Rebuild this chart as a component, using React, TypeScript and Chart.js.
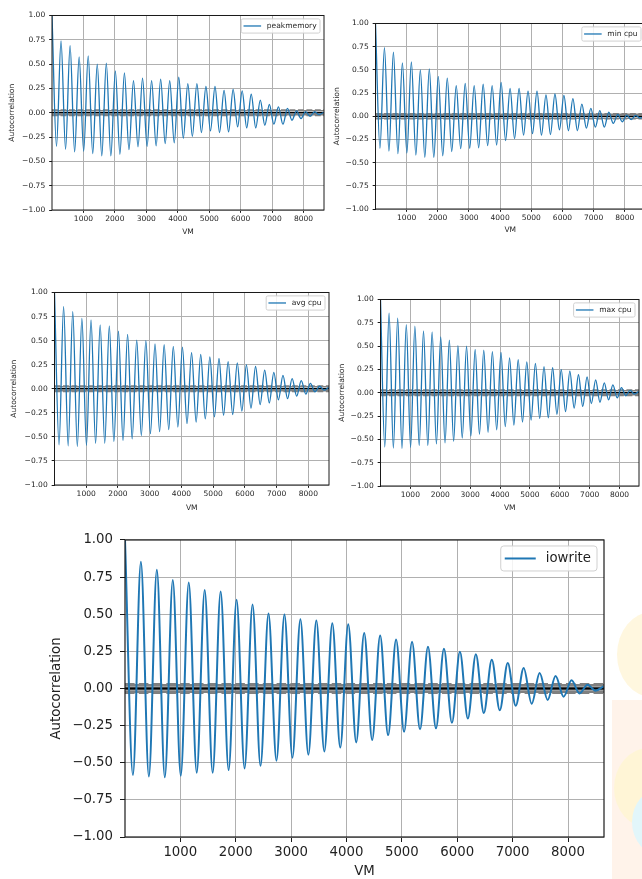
import React, { useEffect, useRef } from "react";
import { Chart, registerables } from "chart.js";
Chart.register(...registerables);

// ---- data ----
// lags of the successive extrema: lag 1, then trough, peak, trough, peak ...
const EXTREMA_LAGS = [
  1, 144, 288, 432, 576, 720, 864, 1008, 1152, 1296, 1440, 1584, 1728, 1872, 2016,
  2160, 2304, 2448, 2592, 2736, 2880, 3024, 3168, 3312, 3456, 3600, 3744, 3888, 4032,
  4176, 4320, 4464, 4608, 4752, 4896, 5040, 5184, 5328, 5472, 5616, 5760, 5904, 6048,
  6192, 6336, 6480, 6624, 6768, 6912, 7056, 7200, 7344, 7488, 7632, 7776, 7920, 8064,
  8208, 8352, 8496, 8640,
];

const peakMemory = [
  1.0,
  -0.345, 0.74, -0.376, 0.69, -0.403, 0.575, -0.396, 0.585, -0.42, 0.5,
  -0.444, 0.51, -0.444, 0.43, -0.427, 0.41, -0.38, 0.33, -0.35, 0.355,
  -0.345, 0.33, -0.341, 0.345, -0.317, 0.33, -0.31, 0.365, -0.262, 0.3,
  -0.242, 0.3, -0.204, 0.27, -0.187, 0.27, -0.204, 0.23, -0.197, 0.24,
  -0.146, 0.225, -0.156, 0.19, -0.156, 0.13, -0.129, 0.085, -0.118, 0.06,
  -0.118, 0.045, -0.077, 0.02, -0.06, 0.012, -0.036, 0.01, -0.019, 0.005,
];

const minCpu = [
  1.0,
  -0.345, 0.74, -0.376, 0.69, -0.403, 0.575, -0.396, 0.585, -0.42, 0.5,
  -0.444, 0.51, -0.444, 0.43, -0.427, 0.41, -0.38, 0.33, -0.35, 0.355,
  -0.345, 0.33, -0.341, 0.345, -0.317, 0.33, -0.31, 0.365, -0.262, 0.3,
  -0.242, 0.3, -0.204, 0.27, -0.187, 0.27, -0.204, 0.23, -0.197, 0.24,
  -0.146, 0.225, -0.156, 0.19, -0.156, 0.13, -0.129, 0.085, -0.118, 0.06,
  -0.118, 0.045, -0.077, 0.02, -0.06, 0.012, -0.036, 0.01, -0.019, 0.005,
];

const avgCpu = [
  1.0,
  -0.582, 0.853, -0.593, 0.8, -0.598, 0.73, -0.587, 0.714, -0.567, 0.664,
  -0.567, 0.653, -0.549, 0.598, -0.538, 0.565, -0.521, 0.505, -0.486, 0.499,
  -0.466, 0.466, -0.446, 0.457, -0.424, 0.44, -0.398, 0.433, -0.363, 0.374,
  -0.347, 0.356, -0.314, 0.33, -0.292, 0.314, -0.275, 0.281, -0.268, 0.268,
  -0.231, 0.248, -0.202, 0.231, -0.165, 0.193, -0.147, 0.171, -0.116, 0.138,
  -0.103, 0.105, -0.077, 0.084, -0.055, 0.055, -0.033, 0.026, -0.015, 0.015,
];

const maxCpu = [
  1.0,
  -0.582, 0.853, -0.593, 0.8, -0.598, 0.73, -0.587, 0.714, -0.567, 0.664,
  -0.567, 0.653, -0.549, 0.598, -0.538, 0.565, -0.521, 0.505, -0.486, 0.499,
  -0.466, 0.466, -0.446, 0.457, -0.424, 0.44, -0.398, 0.433, -0.363, 0.374,
  -0.347, 0.356, -0.314, 0.33, -0.292, 0.314, -0.275, 0.281, -0.268, 0.268,
  -0.231, 0.248, -0.202, 0.231, -0.165, 0.193, -0.147, 0.171, -0.116, 0.138,
  -0.103, 0.105, -0.077, 0.084, -0.055, 0.055, -0.033, 0.026, -0.015, 0.015,
];

const iowrite = [
  1.0,
  -0.582, 0.853, -0.593, 0.8, -0.598, 0.73, -0.587, 0.714, -0.567, 0.664,
  -0.567, 0.653, -0.549, 0.598, -0.538, 0.565, -0.521, 0.505, -0.486, 0.499,
  -0.466, 0.466, -0.446, 0.457, -0.424, 0.44, -0.398, 0.433, -0.363, 0.374,
  -0.347, 0.356, -0.314, 0.33, -0.292, 0.314, -0.275, 0.281, -0.268, 0.268,
  -0.231, 0.248, -0.202, 0.231, -0.165, 0.193, -0.147, 0.171, -0.116, 0.138,
  -0.103, 0.105, -0.077, 0.084, -0.055, 0.055, -0.033, 0.026, -0.015, 0.015,
];

const X_TICKS = [1000, 2000, 3000, 4000, 5000, 6000, 7000, 8000];
const Y_TICKS = [-1, -0.75, -0.5, -0.25, 0, 0.25, 0.5, 0.75, 1];
const X_MIN = 1;
const X_MAX = 8650;
// confidence band levels (99% dashed, 95% solid) and the zero line
const BAND_LEVELS = [0.0277, 0.0211, 0, -0.0211, -0.0277];
const BAND_DASHED = [true, false, false, false, true];

const X_TITLE = "VM";
const Y_TITLE = "Autocorrelation";
const FONT = "'DejaVu Sans', sans-serif";
const TEXT = "#1f1f1f";
const BLUE = "#1f77b4";

type Panel = {
  label: string;
  values: number[];
  L: number; T: number; R: number; B: number;
  k: number; // scale factor relative to the big plot
  yAxisW: number;
  xAxisH: number;
};

const PANELS: Panel[] = [
  { label: "peakmemory", values: peakMemory, L: 52, T: 15, R: 324, B: 210, k: 0.567, yAxisW: 44, xAxisH: 27 },
  { label: "min cpu", values: minCpu, L: 375, T: 23, R: 645, B: 209, k: 0.567, yAxisW: 42.5, xAxisH: 26 },
  { label: "avg cpu", values: avgCpu, L: 54, T: 292, R: 329, B: 485, k: 0.567, yAxisW: 44.5, xAxisH: 28 },
  { label: "max cpu", values: maxCpu, L: 380, T: 299, R: 639, B: 486, k: 0.567, yAxisW: 42.5, xAxisH: 27 },
  { label: "iowrite", values: iowrite, L: 125, T: 533, R: 604, B: 837, k: 1, yAxisW: 76, xAxisH: 43 },
];

const fmtY = (v: number) => {
  const s = Math.abs(v).toFixed(2);
  return v < -1e-9 ? "\u2212" + s : s;
};

const framePlugin = {
  id: "mplFrame",
  afterDatasetsDraw(chart: any, _args: any, opts: any) {
    const { ctx, chartArea } = chart;
    ctx.save();
    ctx.strokeStyle = "#1a1a1a";
    ctx.lineWidth = opts.lw || 1;
    ctx.strokeRect(chartArea.left, chartArea.top, chartArea.right - chartArea.left, chartArea.bottom - chartArea.top);
    ctx.restore();
  },
};

const legendPlugin = {
  id: "mplLegend",
  afterDraw(chart: any, _args: any, opts: any) {
    const { ctx, chartArea } = chart;
    const k = opts.k;
    const fs = 13.3 * k;
    const ds = chart.data.datasets[0];
    ctx.save();
    ctx.font = `${fs}px ${FONT}`;
    const tw = ctx.measureText(ds.label).width;
    const padL = 4 * k, handle = 31 * k, gap = 10 * k, padR = 6 * k, h = 25 * k;
    const w = padL + handle + gap + tw + padR;
    const right = chartArea.right - 7 * k;
    const top = chartArea.top + 6 * k;
    const left = right - w;
    const r = 3 * k;
    ctx.beginPath();
    ctx.moveTo(left + r, top);
    ctx.arcTo(right, top, right, top + h, r);
    ctx.arcTo(right, top + h, left, top + h, r);
    ctx.arcTo(left, top + h, left, top, r);
    ctx.arcTo(left, top, right, top, r);
    ctx.closePath();
    ctx.fillStyle = "rgba(255,255,255,0.85)";
    ctx.fill();
    ctx.strokeStyle = "#d0d0d0";
    ctx.lineWidth = 1;
    ctx.stroke();
    const cy = top + h / 2;
    ctx.strokeStyle = ds.borderColor;
    ctx.lineWidth = ds.borderWidth;
    ctx.beginPath();
    ctx.moveTo(left + padL, cy);
    ctx.lineTo(left + padL + handle, cy);
    ctx.stroke();
    ctx.fillStyle = TEXT;
    ctx.textBaseline = "middle";
    ctx.textAlign = "left";
    ctx.fillText(ds.label, left + padL + handle + gap, cy + 0.5);
    ctx.restore();
  },
};

function AcfPanel({ p }: { p: Panel }) {
  const ref = useRef<HTMLCanvasElement | null>(null);
  const padTop = 8;
  const padRight = 8;
  const width = p.yAxisW + (p.R - p.L) + padRight;
  const height = padTop + (p.B - p.T) + p.xAxisH;
  const left = p.L - p.yAxisW;
  const top = p.T - padTop;

  useEffect(() => {
    if (!ref.current) return;
    const k = p.k;
    const fs = 13.3 * k;
    const lw = k === 1 ? 2 : 1.3;
    const bandLw = k === 1 ? 2.6 : 1.6;
    const tl = 5 * k;
    const series = EXTREMA_LAGS.map((x, i) => ({ x, y: p.values[i] }));
    const bandSets = BAND_LEVELS.map((lvl, i) => ({
      label: "band" + i,
      data: [{ x: X_MIN, y: lvl }, { x: X_MAX, y: lvl }],
      borderColor: lvl === 0 ? "#000000" : "#808080",
      borderWidth: bandLw,
      borderDash: BAND_DASHED[i] ? [3.7 * bandLw, 1.6 * bandLw] : [],
      pointRadius: 0,
      tension: 0,
      showLine: true,
    }));
    const chart = new Chart(ref.current, {
      type: "line",
      data: {
        datasets: [
          {
            label: p.label,
            data: series,
            borderColor: BLUE,
            borderWidth: lw,
            pointRadius: 0,
            cubicInterpolationMode: "monotone",
            showLine: true,
            fill: false,
          } as any,
          ...bandSets,
        ],
      },
      options: {
        animation: false,
        responsive: false,
        maintainAspectRatio: false,
        devicePixelRatio: 1,
        events: [],
        layout: { padding: { top: padTop, right: padRight, left: 0, bottom: 0 } },
        plugins: {
          legend: { display: false },
          tooltip: { enabled: false },
          mplFrame: { lw: k === 1 ? 1.2 : 1 },
          mplLegend: { k },
        } as any,
        scales: {
          x: {
            type: "linear",
            min: X_MIN,
            max: X_MAX,
            afterBuildTicks: (s: any) => {
              s.ticks = X_TICKS.map((v) => ({ value: v }));
            },
            afterFit: (s: any) => {
              s.height = p.xAxisH;
            },
            grid: { color: "#b0b0b0", lineWidth: 1, tickLength: tl, tickColor: "#1a1a1a", drawTicks: true },
            border: { display: false },
            ticks: {
              font: { family: FONT, size: fs },
              color: TEXT,
              padding: 3 * k,
              maxRotation: 0,
              autoSkip: false,
              callback: (v: any) => String(v),
            },
            title: { display: true, text: X_TITLE, font: { family: FONT, size: fs }, color: TEXT, padding: 0 },
          },
          y: {
            type: "linear",
            min: -1,
            max: 1,
            afterBuildTicks: (s: any) => {
              s.ticks = Y_TICKS.map((v) => ({ value: v }));
            },
            afterFit: (s: any) => {
              s.width = p.yAxisW;
            },
            grid: { color: "#b0b0b0", lineWidth: 1, tickLength: tl, tickColor: "#1a1a1a", drawTicks: true },
            border: { display: false },
            ticks: {
              font: { family: FONT, size: fs },
              color: TEXT,
              padding: 7 * k,
              autoSkip: false,
              callback: (v: any) => fmtY(Number(v)),
            },
            title: { display: true, text: Y_TITLE, font: { family: FONT, size: fs }, color: TEXT, padding: 0 },
          },
        },
      } as any,
      plugins: [framePlugin, legendPlugin],
    });
    return () => chart.destroy();
  }, []);

  return (
    <canvas
      ref={ref}
      width={width}
      height={height}
      style={{ position: "absolute", left, top, width, height }}
    />
  );
}

export default function App() {
  return (
    <div
      style={{
        position: "absolute",
        left: 0,
        top: 0,
        width: 642,
        height: 879,
        overflow: "hidden",
        background: "#ffffff",
      }}
    >
      {/* faint slide decorations at the bottom right */}
      <div style={{ position: "absolute", left: 612, top: 700, width: 40, height: 190, background: "#fff3ea" }} />
      <div style={{ position: "absolute", left: 617, top: 612, width: 70, height: 85, borderRadius: "50%", background: "#fff7df" }} />
      <div style={{ position: "absolute", left: 614, top: 748, width: 70, height: 80, borderRadius: "50%", background: "#fff5d6" }} />
      <div style={{ position: "absolute", left: 632, top: 788, width: 60, height: 68, borderRadius: "50%", background: "#e2f6fa" }} />
      {PANELS.map((p) => (
        <AcfPanel key={p.label} p={p} />
      ))}
    </div>
  );
}
